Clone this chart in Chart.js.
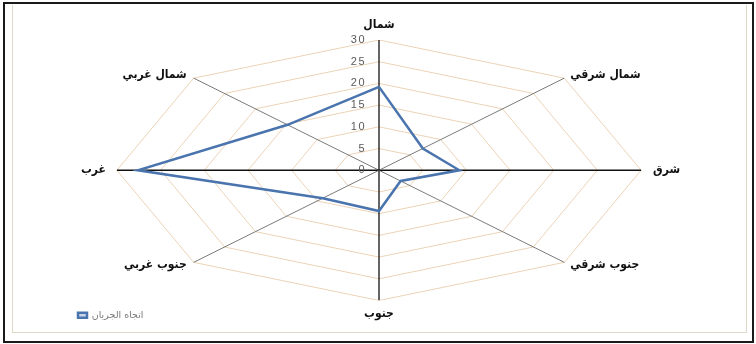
<!DOCTYPE html>
<html lang="ar">
<head>
<meta charset="utf-8">
<script src="https://cdn.jsdelivr.net/npm/chart.js@4"></script>
<style>
  body { margin: 0; background: #ffffff; }
  #wrap { position: relative; width: 756px; height: 344px; }
  #outer { position: absolute; left: 3px; top: 2px; width: 747px; height: 337px; border: 2px solid #1a1a1a; pointer-events: none; }
  #inner { position: absolute; left: 12px; top: 5px; width: 733px; height: 327px; border: 1px solid #ddd8c8; border-top: none; pointer-events: none; }
</style>
</head>
<body>
<div id="wrap">
  <canvas id="chart" width="756" height="344"></canvas>
  <div id="outer"></div>
  <div id="inner"></div>
</div>
<script>
// directions, clockwise from north
const directions = ['شمال', 'شمال شرقي', 'شرق', 'جنوب شرقي', 'جنوب', 'جنوب غربي', 'غرب', 'شمال غربي']
const flowValues = [19.2, 7.1, 9.2, 3.5, 9.4, 9.1, 27.6, 14.8]
const ringValues = [5, 10, 15, 20, 25, 30]
const tickValues = [0, 5, 10, 15, 20, 25, 30]
const seriesName = 'اتجاه الجريان'

const maxR = 30
const xExt = 35.6   // horizontal stretch, chart is wider than tall

function toPoint(r, i){
    let a = i * Math.PI / 4
    return {x: r * Math.sin(a), y: r * Math.cos(a)}
}

function polygon(values){
    let pts = values.map((v, i) => toPoint(v, i))
    pts.push(pts[0])
    return pts
}

let datasets = []

datasets.push({
    label: seriesName,
    data: polygon(flowValues),
    showLine: true,
    borderColor: '#4a74ad',
    backgroundColor: '#c9d6ea',
    borderWidth: 2.5,
    pointRadius: 0,
    order: 0
})

directions.forEach((d, i) => {
    let straight = i % 2 == 0
    datasets.push({
        label: 'spoke',
        data: [{x: 0, y: 0}, toPoint(maxR, i)],
        showLine: true,
        borderColor: straight ? '#111111' : '#7a7a7a',
        borderWidth: straight ? 1.3 : 1,
        pointRadius: 0,
        order: 1
    })
})

ringValues.forEach((r) => {
    datasets.push({
        label: 'ring',
        data: polygon(directions.map(() => r)),
        showLine: true,
        borderColor: '#ecd3b6',
        borderWidth: 1,
        pointRadius: 0,
        order: 2
    })
})

const axisText = {
    id: 'axisText',
    afterDatasetsDraw(chart){
        let ctx = chart.ctx
        let xs = chart.scales.x, ys = chart.scales.y
        let cx = xs.getPixelForValue(0)
        ctx.save()
        ctx.textBaseline = 'middle'

        // tick labels up the north spoke
        ctx.font = '11px "Liberation Sans", sans-serif'
        ctx.letterSpacing = '1.5px'
        ctx.fillStyle = '#5a5a5a'
        ctx.textAlign = 'right'
        tickValues.forEach((v) => {
            ctx.fillText(String(v), cx - 13, ys.getPixelForValue(v))
        })
        ctx.letterSpacing = '0px'

        // direction names
        ctx.font = 'bold 12px "DejaVu Sans Condensed", "DejaVu Sans", sans-serif'
        ctx.fillStyle = '#111111'
        directions.forEach((d, i) => {
            let p = toPoint(maxR, i)
            let px = xs.getPixelForValue(p.x)
            let py = ys.getPixelForValue(p.y)
            if(Math.abs(p.x) < 0.01){
                ctx.textAlign = 'center'
                py += p.y > 0 ? -15 : 13
            }
            else if(Math.abs(p.y) < 0.01){
                ctx.textAlign = p.x > 0 ? 'left' : 'right'
                px += p.x > 0 ? 12 : -11
            }
            else{
                ctx.textAlign = p.x > 0 ? 'left' : 'right'
                px += p.x > 0 ? 6 : -7
                py += p.y > 0 ? -3 : 3
            }
            ctx.fillText(d, px, py)
        })
        ctx.restore()
    }
}

new Chart(document.getElementById('chart'), {
    type: 'scatter',
    data: {datasets: datasets},
    options: {
        responsive: false,
        animation: false,
        layout: {padding: {top: 40, left: 68, right: 66, bottom: 14}},
        scales: {
            x: {type: 'linear', min: -xExt, max: xExt, display: false},
            y: {type: 'linear', min: -maxR, max: maxR, display: false}
        },
        plugins: {
            legend: {
                position: 'bottom',
                align: 'start',
                labels: {
                    filter: (item) => item.datasetIndex == 0,
                    boxWidth: 9,
                    boxHeight: 5,
                    padding: 10,
                    color: '#7a7a7a',
                    font: {size: 9.5, family: '"DejaVu Sans"'}
                }
            },
            tooltip: {enabled: false}
        }
    },
    plugins: [axisText]
})
</script>
</body>
</html>
